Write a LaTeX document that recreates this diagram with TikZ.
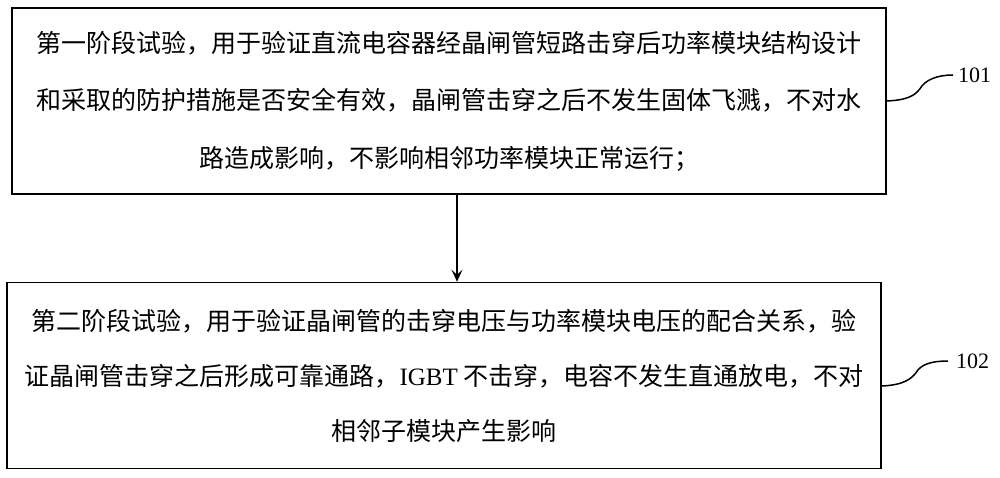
\documentclass[tikz,border=0pt]{standalone}
\usepackage{fontspec}
\setmainfont{Liberation Serif}
\newfontfamily\cjk{Noto Sans CJK SC}
\usetikzlibrary{arrows.meta}
\begin{document}
\begin{tikzpicture}[x=1pt,y=-1pt,
  stepbox/.style={draw,line width=1.6pt,minimum width=874pt,minimum height=186pt,inner sep=0pt,align=center},
  stepfontA/.style={font=\cjk\fontsize{25pt}{57.5pt}\selectfont},
  stepfontB/.style={font=\cjk\fontsize{25pt}{55pt}\selectfont},
  reflabel/.style={anchor=west,inner sep=0pt,font=\fontsize{22pt}{24pt}\selectfont},
  leader/.style={line width=1.5pt},
  flow/.style={line width=1.4pt,-{Stealth[length=12pt,width=11pt,inset=5pt]}}]
\useasboundingbox (0,0) rectangle (1000,478);
\node[stepbox,stepfontA] (box1) at (449,101) {第一阶段试验，用于验证直流电容器经晶闸管短路击穿后功率模块结构设计\\和采取的防护措施是否安全有效，晶闸管击穿之后不发生固体飞溅，不对水\\路造成影响，不影响相邻功率模块正常运行；};
\node[stepbox,stepfontB] (box2) at (444,375.5) {第二阶段试验，用于验证晶闸管的击穿电压与功率模块电压的配合关系，验\\证晶闸管击穿之后形成可靠通路，{\rmfamily IGBT} 不击穿，电容不发生直通放电，不对\\相邻子模块产生影响};
\node[reflabel] (l101) at (958,75) {101};
\node[reflabel] (l102) at (956,361) {102};
\draw[flow] ([xshift=8pt]box1.south) -- ([xshift=8pt]box1.south |- box2.north);
\draw[leader] (box1.east) .. controls +(22,-1) and +(-5,6) .. ++(33,-12)
  .. controls +(5,-9) and +(-16,0) .. ([xshift=-5pt]l101.west);
\draw[leader] ([yshift=-10.5pt]box2.east) .. controls +(22,-1) and +(-5,6) .. ++(34,-13)
  .. controls +(5,-9) and +(-16,0) .. ([xshift=-8pt]l102.west);
\end{tikzpicture}
\end{document}
